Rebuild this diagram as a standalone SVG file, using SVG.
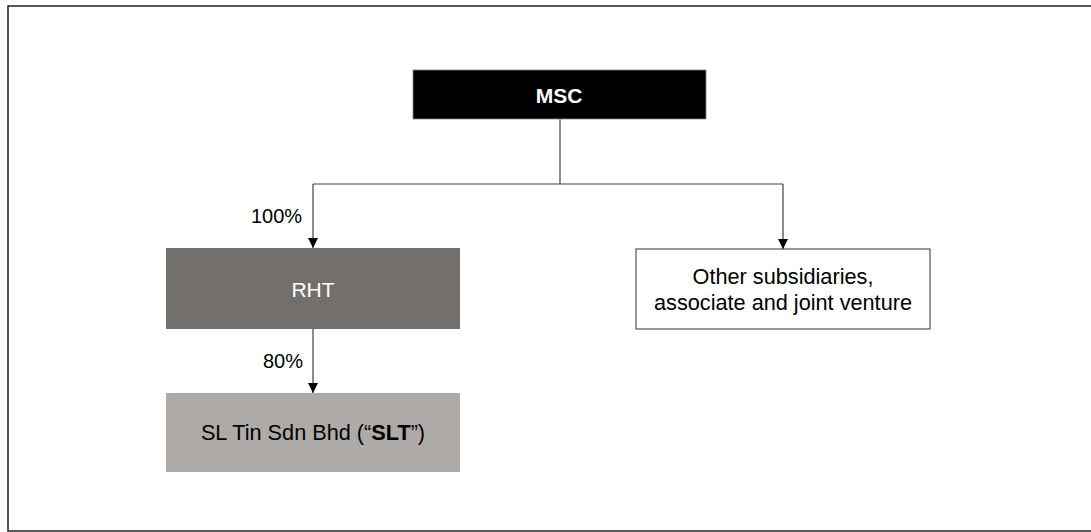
<svg xmlns="http://www.w3.org/2000/svg" width="1091" height="532" viewBox="0 0 1091 532">
<style>
text{font-family:"Liberation Sans",Arial,sans-serif;font-size:21px;}
.conn{stroke:#404040;stroke-width:1.2;fill:none;}
.lbl{fill:#000;font-size:20px;}
.big{font-size:21.7px;}
</style>
<defs>
<marker id="arr" viewBox="0 0 10 10" refX="10" refY="5" markerWidth="10" markerHeight="10" markerUnits="userSpaceOnUse" orient="auto">
<path d="M0,0 L10,5 L0,10 Z" fill="#000"/>
</marker>
</defs>
<rect x="0" y="0" width="1091" height="532" fill="#fff"/>
<rect x="8" y="6" width="1090" height="525" fill="none" stroke="#222" stroke-width="1.5"/>
<g id="connectors">
<path class="conn" d="M560,119 V184"/>
<path class="conn" d="M313,184 H783"/>
<path class="conn" d="M313,184 V248" marker-end="url(#arr)"/>
<path class="conn" d="M783,184 V249" marker-end="url(#arr)"/>
<path class="conn" d="M313,329 V393" marker-end="url(#arr)"/>
<text class="lbl" x="251" y="223">100%</text>
<text class="lbl" x="263" y="368">80%</text>
</g>
<g id="msc">
<rect x="413" y="70" width="293" height="49" fill="#000" stroke="#888" stroke-width="0.8"/>
<text x="559" y="103" text-anchor="middle" fill="#fff" font-weight="bold" font-size="22">MSC</text>
</g>
<g id="rht">
<rect x="166" y="248" width="294" height="81" fill="#736f6d"/>
<text x="313" y="297" text-anchor="middle" fill="#fff">RHT</text>
</g>
<g id="slt">
<rect x="166" y="393" width="294" height="79" fill="#aeaaa8"/>
<text class="big" x="313" y="440" text-anchor="middle" fill="#000">SL Tin Sdn Bhd (“<tspan font-weight="bold">SLT</tspan>”)</text>
</g>
<g id="other">
<rect x="636" y="249" width="294" height="80" fill="#fff" stroke="#333" stroke-width="1"/>
<text class="big" x="783" y="284" text-anchor="middle" fill="#000">Other subsidiaries,</text>
<text class="big" x="783" y="310" text-anchor="middle" fill="#000">associate and joint venture</text>
</g>
</svg>
